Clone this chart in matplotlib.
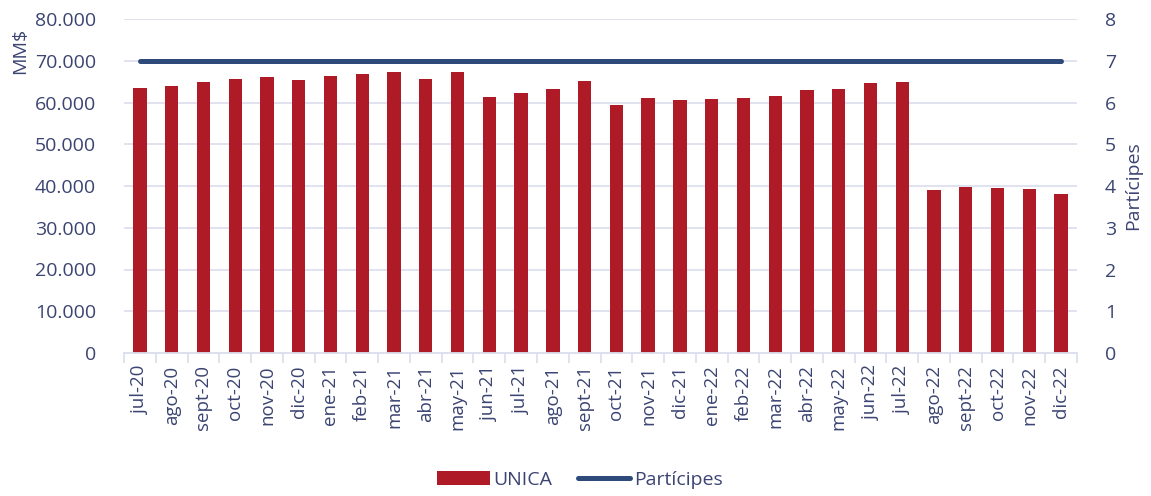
import matplotlib
matplotlib.use("Agg")
import matplotlib.pyplot as plt
import numpy as np
from matplotlib.ticker import FuncFormatter, FixedLocator

categories = ["jul-20", "ago-20", "sept-20", "oct-20", "nov-20", "dic-20",
              "ene-21", "feb-21", "mar-21", "abr-21", "may-21", "jun-21",
              "jul-21", "ago-21", "sept-21", "oct-21", "nov-21", "dic-21",
              "ene-22", "feb-22", "mar-22", "abr-22", "may-22", "jun-22",
              "jul-22", "ago-22", "sept-22", "oct-22", "nov-22", "dic-22"]
unica = [63400, 64000, 64850, 65650, 66200, 65350, 66450, 66900, 67300, 65650,
         67300, 61350, 62200, 63250, 65150, 59450, 61150, 60550, 60800, 61100,
         61600, 62950, 63200, 64700, 64950, 39100, 39850, 39550, 39250, 38050]
participes = [7] * 30

TXT = "#3B4472"
RED = "#AE1B27"
BLUE = "#2E4A7B"
GRID = "#DDE0EE"

plt.rcParams['font.family'] = ['Open Sans', 'DejaVu Sans']
plt.rcParams['font.size'] = 14

fig = plt.figure(figsize=(11.51, 4.96), dpi=100)
ax = fig.add_axes([124/1151, 1-353/496, (1077-124)/1151, (353-19)/496])
ax2 = ax.twinx()

x = np.arange(len(categories))
ax.bar(x, unica, width=0.42, color=RED, zorder=3, label="UNICA")
ax2.plot(x, participes, color=BLUE, lw=3.6, solid_capstyle='round', label="Partícipes", zorder=4)

ax.set_xlim(-0.5, len(categories) - 0.5)
ax.set_ylim(0, 80000)
ax2.set_ylim(0, 8)
ax.set_yticks(np.arange(0, 80001, 10000))
ax2.set_yticks(np.arange(0, 9, 1))
ax.yaxis.set_major_formatter(FuncFormatter(lambda v, p: f"{int(v):,}".replace(",", ".")))
ax.grid(axis='y', color=GRID, lw=1.3, zorder=0)
ax.set_axisbelow(True)

ax.set_xticks(x)
ax.set_xticklabels(categories, rotation=90, color=TXT, fontsize=13.5)
ax.xaxis.set_minor_locator(FixedLocator(np.arange(-0.5, len(categories), 1.0)))
ax.tick_params(axis='x', which='major', length=0, pad=9)
ax.tick_params(axis='x', which='minor', length=7, color=GRID, width=1.3)
ax.tick_params(axis='y', length=0, colors=TXT, labelsize=14, pad=20)
ax2.tick_params(axis='y', length=0, colors=TXT, labelsize=14, pad=20)

for a in (ax, ax2):
    for s in ('top', 'left', 'right'):
        a.spines[s].set_visible(False)
    a.spines['bottom'].set_color(GRID)
    a.spines['bottom'].set_linewidth(1.3)

fig.text(20/1151, 1-28/496, "MM$", rotation=90, ha='center', va='top', color=TXT, fontsize=14)
ax2.set_ylabel("Partícipes", color=TXT, fontsize=14, labelpad=6)

h1, l1 = ax.get_legend_handles_labels()
h2, l2 = ax2.get_legend_handles_labels()
fig.legend(h1 + h2, l1 + l2, loc='center', bbox_to_anchor=(580/1151, 1-480/496),
           ncol=2, frameon=False, labelcolor=TXT, fontsize=14,
           handlelength=2.7, handleheight=0.7, handletextpad=0.2, columnspacing=1.3)

fig.savefig("out.png", dpi=100)
